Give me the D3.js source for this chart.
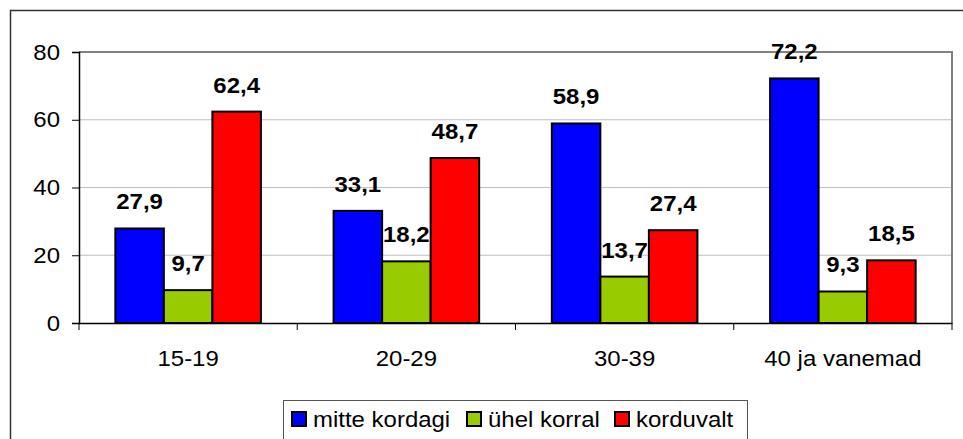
<!DOCTYPE html>
<html>
<head>
<meta charset="utf-8">
<script src="https://cdn.jsdelivr.net/npm/d3@7"></script>
<style>
  body { margin: 0; background: #fff; }
  svg { font-family: "Liberation Sans", Arial, sans-serif; }
</style>
</head>
<body>
<div id="chart"></div>
<script>
// data
const categories = ["15-19", "20-29", "30-39", "40 ja vanemad"];
const seriesNames = ["mitte kordagi", "ühel korral", "korduvalt"];
const mitteKordagi = [27.9, 33.1, 58.9, 72.2];
const uhelKorral = [9.7, 18.2, 13.7, 9.3];
const korduvalt = [62.4, 48.7, 27.4, 18.5];
const yTicks = [0, 20, 40, 60, 80];
const colors = ["#0000ff", "#99cc00", "#ff0000"];

const seriesValues = [mitteKordagi, uhelKorral, korduvalt];

const width = 963, height = 439;
const plot = { left: 79, top: 52, right: 952, bottom: 323 };
const FS = 22, SX = 1.09;

// stretch text horizontally a bit (reference font is wider)
function stretch(sel) {
    sel.each(function() {
        const t = d3.select(this);
        const x = +t.attr("x") || 0;
        t.attr("x", x / SX).attr("transform", `scale(${SX},1)`);
    });
}

const svg = d3.select("#chart").append("svg")
    .attr("width", width)
    .attr("height", height);

// outer frame
svg.append("rect")
    .attr("x", 10.5).attr("y", 10.5)
    .attr("width", 970).attr("height", 460)
    .attr("fill", "none")
    .attr("stroke", "#333").attr("stroke-width", 1.5);

const x0 = d3.scaleBand()
    .domain(categories)
    .range([plot.left, plot.right])
    .paddingInner(0.333)
    .paddingOuter(0.1665);

const x1 = d3.scaleBand()
    .domain(seriesNames)
    .range([0, x0.bandwidth()]);

const y = d3.scaleLinear()
    .domain([0, 80])
    .range([plot.bottom, plot.top]);

// gridlines
svg.append("g")
    .selectAll("line")
    .data(yTicks.filter(d => d > 0 && d < 80))
    .enter().append("line")
    .attr("x1", plot.left).attr("x2", plot.right)
    .attr("y1", d => y(d)).attr("y2", d => y(d))
    .attr("stroke", "#c0c0c0").attr("stroke-width", 1);

// plot area border (top + right)
svg.append("path")
    .attr("d", `M${plot.left},${y(80)}H${plot.right}V${plot.bottom}`)
    .attr("fill", "none")
    .attr("stroke", "#808080").attr("stroke-width", 2);

// bars
const groups = svg.append("g")
    .selectAll("g")
    .data(seriesValues)
    .enter().append("g")
    .attr("fill", (d, i) => colors[i]);

groups.each(function(vals, si) {
    const g = d3.select(this);
    g.selectAll("rect")
        .data(vals)
        .enter().append("rect")
        .attr("x", (d, i) => x0(categories[i]) + x1(seriesNames[si]))
        .attr("y", d => y(d))
        .attr("width", x1.bandwidth())
        .attr("height", d => y(0) - y(d))
        .attr("stroke", "#000")
        .attr("stroke-width", 2);

    g.selectAll("text")
        .data(vals)
        .enter().append("text")
        .attr("x", (d, i) => x0(categories[i]) + x1(seriesNames[si]) + x1.bandwidth() / 2)
        .attr("y", d => y(d) - 19)
        .attr("text-anchor", "middle")
        .attr("font-size", FS)
        .attr("font-weight", "bold")
        .attr("fill", "#000")
        .text(d => d.toFixed(1).replace(".", ","))
        .call(stretch);
});

// y axis
const yAxis = svg.append("g")
    .attr("transform", `translate(${plot.left},0)`)
    .call(d3.axisLeft(y).tickValues(yTicks).tickSize(7).tickPadding(12));
yAxis.select(".domain").attr("stroke", "#000").attr("stroke-width", 1.5);
yAxis.selectAll(".tick line").attr("stroke", "#000");
yAxis.selectAll("text")
    .attr("font-size", FS)
    .attr("font-family", "Liberation Sans, Arial, sans-serif")
    .attr("fill", "#000")
    .call(stretch);

// x axis
const xAxis = svg.append("g")
    .attr("transform", `translate(0,${plot.bottom})`)
    .call(d3.axisBottom(x0).tickSize(0));
xAxis.select(".domain").attr("stroke", "#000").attr("stroke-width", 1.5);
xAxis.selectAll("text")
    .attr("y", 43).attr("dy", null)
    .attr("font-size", FS)
    .attr("font-family", "Liberation Sans, Arial, sans-serif")
    .attr("fill", "#000")
    .call(stretch);

// category boundary ticks
xAxis.selectAll(".sep")
    .data(d3.range(categories.length + 1))
    .enter().append("line")
    .attr("x1", i => plot.left + i * (plot.right - plot.left) / categories.length)
    .attr("x2", i => plot.left + i * (plot.right - plot.left) / categories.length)
    .attr("y1", 0).attr("y2", 7)
    .attr("stroke", "#000").attr("stroke-width", 1);

// legend
const legend = svg.append("g").attr("transform", "translate(283,400)");
legend.append("rect")
    .attr("x", 0.5).attr("y", 0.5)
    .attr("width", 464).attr("height", 50)
    .attr("fill", "#fff")
    .attr("stroke", "#555").attr("stroke-width", 1);

const legendX = [9, 184, 332];
const items = legend.selectAll(".item")
    .data(seriesNames)
    .enter().append("g")
    .attr("transform", (d, i) => `translate(${legendX[i]},0)`);
items.append("rect")
    .attr("x", 0).attr("y", 12)
    .attr("width", 14).attr("height", 14)
    .attr("fill", (d, i) => colors[i])
    .attr("stroke", "#000").attr("stroke-width", 2);
items.append("text")
    .attr("x", 21).attr("y", 27)
    .attr("font-size", FS)
    .attr("fill", "#000")
    .text(d => d)
    .call(stretch);
</script>
</body>
</html>
